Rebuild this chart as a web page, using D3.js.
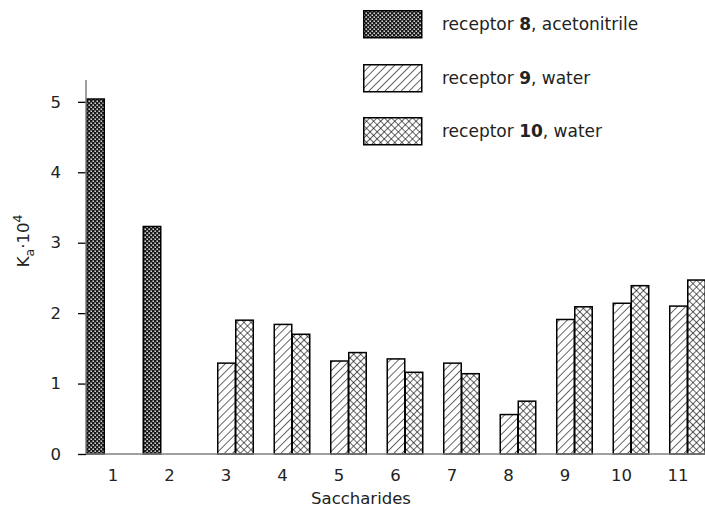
<!DOCTYPE html>
<html>
<head>
<meta charset="utf-8">
<script src="https://cdn.jsdelivr.net/npm/d3@7"></script>
<style>
  html, body { margin: 0; padding: 0; background: #fff; }
  svg { display: block; font-family: "DejaVu Sans", Verdana, sans-serif; }
</style>
</head>
<body>
<svg id="chart" width="705" height="510"></svg>
<script>
// Association constants (Ka·10^4) for each saccharide
const saccharides = ["1", "2", "3", "4", "5", "6", "7", "8", "9", "10", "11"];
const receptor8 = [5.04, 3.23, null, null, null, null, null, null, null, null, null];
const receptor9 = [null, null, 1.29, 1.84, 1.32, 1.35, 1.29, 0.56, 1.91, 2.14, 2.10];
const receptor10 = [null, null, 1.90, 1.70, 1.44, 1.16, 1.14, 0.75, 2.09, 2.39, 2.47];
const yTicks = [0, 1, 2, 3, 4, 5];

const seriesNames = ["r8", "r9", "r10"];
const seriesValues = [receptor8, receptor9, receptor10];
const legendLabels = [
  { pre: "receptor ", num: "8", post: ", acetonitrile" },
  { pre: "receptor ", num: "9", post: ", water" },
  { pre: "receptor ", num: "10", post: ", water" }
];

const svg = d3.select("#chart");
const defs = svg.append("defs");

// Dense dark checker fill
const p8 = defs.append("pattern").attr("id", "pat-r8")
  .attr("patternUnits", "userSpaceOnUse").attr("width", 4).attr("height", 4);
p8.append("rect").attr("width", 4).attr("height", 4).attr("fill", "#1a1a1a");
p8.append("rect").attr("x", 0.5).attr("y", 0.5).attr("width", 1.4).attr("height", 1.4).attr("fill", "#fff");
p8.append("rect").attr("x", 2.5).attr("y", 2.5).attr("width", 1.4).attr("height", 1.4).attr("fill", "#fff");

// Single diagonal hatch
const p9 = defs.append("pattern").attr("id", "pat-r9")
  .attr("patternUnits", "userSpaceOnUse").attr("width", 5.7).attr("height", 5.7)
  .attr("patternTransform", "rotate(45)");
p9.append("rect").attr("width", 5.7).attr("height", 5.7).attr("fill", "#fff");
p9.append("line").attr("x1", 0).attr("y1", 0).attr("x2", 0).attr("y2", 5.7)
  .attr("stroke", "#000").attr("stroke-width", 1.2);

// Cross hatch
const p10 = defs.append("pattern").attr("id", "pat-r10")
  .attr("patternUnits", "userSpaceOnUse").attr("width", 5).attr("height", 5)
  .attr("patternTransform", "rotate(45)");
p10.append("rect").attr("width", 5).attr("height", 5).attr("fill", "#fff");
p10.append("line").attr("x1", 0).attr("y1", 0).attr("x2", 0).attr("y2", 5)
  .attr("stroke", "#000").attr("stroke-width", 1.2);
p10.append("line").attr("x1", 0).attr("y1", 0).attr("x2", 5).attr("y2", 0)
  .attr("stroke", "#000").attr("stroke-width", 1.2);

const fills = { r8: "url(#pat-r8)", r9: "url(#pat-r9)", r10: "url(#pat-r10)" };

// Scales
const x0 = d3.scaleBand().domain(saccharides).range([86, 705])
  .paddingInner(0.044).paddingOuter(0);
const x1 = d3.scaleBand().domain(seriesNames).range([0, x0.bandwidth()]).padding(0);
const y = d3.scaleLinear().domain([0, 5.31]).range([454, 80]);

// Bars
const barData = [];
saccharides.forEach((s, i) => {
  seriesNames.forEach((k, j) => {
    const v = seriesValues[j][i];
    if (v != null) barData.push({ cat: s, key: k, value: v });
  });
});

svg.append("g").selectAll("rect").data(barData).join("rect")
  .attr("x", d => x0(d.cat) + x1(d.key) + 0.75)
  .attr("width", x1.bandwidth() - 0.5)
  .attr("y", d => y(d.value))
  .attr("height", d => y(0) - y(d.value))
  .attr("fill", d => fills[d.key])
  .attr("stroke", "#000")
  .attr("stroke-width", 1.5);

// Y axis
const yAxis = svg.append("g").attr("transform", "translate(86,0)")
  .call(d3.axisLeft(y).tickValues(yTicks).tickFormat(d3.format("d")).tickSize(8).tickPadding(17));
yAxis.select(".domain").remove();
yAxis.selectAll(".tick line").attr("stroke", "#000").attr("stroke-width", 1.3);
yAxis.selectAll(".tick text").attr("font-size", 16.5).attr("fill", "#222")
  .attr("font-family", "DejaVu Sans, sans-serif");
svg.append("line").attr("x1", 86).attr("x2", 86).attr("y1", y.range()[1]).attr("y2", y(0))
  .attr("stroke", "#808080").attr("stroke-width", 1.5);

// X axis
const xAxis = svg.append("g").attr("transform", `translate(0,${y(0)})`)
  .call(d3.axisBottom(x0).tickSize(0).tickPadding(15));
xAxis.select(".domain").remove();
xAxis.selectAll(".tick text").attr("font-size", 16.5).attr("fill", "#222")
  .attr("font-family", "DejaVu Sans, sans-serif");
svg.append("line").attr("x1", 86).attr("x2", 705).attr("y1", y(0)).attr("y2", y(0))
  .attr("stroke", "#808080").attr("stroke-width", 1.5);

// Axis titles
svg.append("text").attr("x", 361).attr("y", 504).attr("text-anchor", "middle")
  .attr("font-size", 16.5).attr("fill", "#222").text("Saccharides");

const yTitle = svg.append("text")
  .attr("transform", "translate(29,241) rotate(-90)")
  .attr("text-anchor", "middle").attr("font-size", 16.5).attr("fill", "#222");
yTitle.append("tspan").text("K");
yTitle.append("tspan").attr("font-size", 12.5).attr("dy", 5).text("a");
yTitle.append("tspan").attr("dy", -5).text("·10");
yTitle.append("tspan").attr("font-size", 12.5).attr("dy", -7).text("4");

// Legend
const legend = svg.append("g");
const legendRows = [10, 64, 117];
seriesNames.forEach((k, i) => {
  const g = legend.append("g").attr("transform", `translate(363,${legendRows[i]})`);
  g.append("rect").attr("x", 0.75).attr("y", 0.75).attr("width", 58).attr("height", 27)
    .attr("fill", fills[k]).attr("stroke", "#000").attr("stroke-width", 1.5);
  const t = g.append("text").attr("x", 79).attr("y", 20).attr("font-size", 17).attr("fill", "#222");
  t.append("tspan").text(legendLabels[i].pre);
  t.append("tspan").attr("font-weight", "bold").text(legendLabels[i].num);
  t.append("tspan").text(legendLabels[i].post);
});
</script>
</body>
</html>
